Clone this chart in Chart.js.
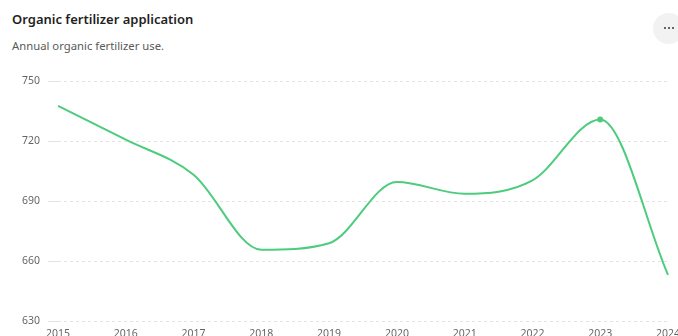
<!DOCTYPE html>
<html>
<head>
<meta charset="utf-8">
<script src="https://cdn.jsdelivr.net/npm/chart.js@4"></script>
<style>
  html, body { margin: 0; padding: 0; background: #fff; overflow: hidden; width: 678px; height: 336px; }
  body { position: relative; font-family: "Noto Sans", "Open Sans", sans-serif; }
  .title { position: absolute; left: 12px; top: 10px; font-size: 13px; font-weight: 600; color: #1f1f1f; }
  .subtitle { position: absolute; left: 12px; top: 38px; font-size: 11.3px; color: #5a5a5a; }
  .menu { position: absolute; left: 653px; top: 13px; width: 31px; height: 31px; border-radius: 50%; background: #f2f2f2; }
  .menu i { position: absolute; top: 14px; width: 2px; height: 2px; background: #666; }
  .wrap { position: absolute; left: 0; top: 67px; width: 686px; height: 279px; }
</style>
</head>
<body>
<div class="title">Organic fertilizer application</div>
<div class="subtitle">Annual organic fertilizer use.</div>
<div class="menu"><i style="left:11px"></i><i style="left:15px"></i><i style="left:19px"></i></div>
<div class="wrap"><canvas id="c"></canvas></div>
<script>
// Annual organic fertilizer use by year
const years = ["2015", "2016", "2017", "2018", "2019", "2020", "2021", "2022", "2023", "2024"];
const usage = [737.7, 720.8, 703.3, 665.8, 669.1, 699.7, 693.8, 700.5, 730.9, 653.3];
const yTicks = [630, 660, 690, 720, 750];
const markedYear = "2023";

const green = "rgb(76, 204, 124)";

new Chart(document.getElementById("c"), {
  type: "line",
  data: {
    labels: years,
    datasets: [{
      data: usage,
      borderColor: green,
      backgroundColor: green,
      borderWidth: 2,
      cubicInterpolationMode: "monotone",
      pointRadius: years.map(y => y === markedYear ? 3 : 0),
      pointHoverRadius: 3,
      pointBorderWidth: 0,
      fill: false
    }]
  },
  options: {
    responsive: true,
    maintainAspectRatio: false,
    animation: false,
    layout: { padding: { top: 0, bottom: 0, left: 14, right: 0 } },
    plugins: { legend: { display: false }, tooltip: { enabled: false } },
    scales: {
      x: {
        offset: false,
        grid: { display: false, drawTicks: false },
        border: { display: false },
        ticks: { color: "#666", font: { family: "Noto Sans", size: 10.5 }, padding: 6, maxRotation: 0, autoSkip: false }
      },
      y: {
        min: yTicks[0],
        max: yTicks[yTicks.length - 1],
        afterBuildTicks: axis => { axis.ticks = yTicks.map(v => ({ value: v })); },
        grid: { color: "#e3e3e3", lineWidth: 1, tickLength: 10, tickColor: "#e3e3e3" },
        border: { display: false, dash: [3, 3] },
        ticks: { color: "#666", font: { family: "Noto Sans", size: 10.5 }, padding: 8 }
      }
    }
  }
});
</script>
</body>
</html>
